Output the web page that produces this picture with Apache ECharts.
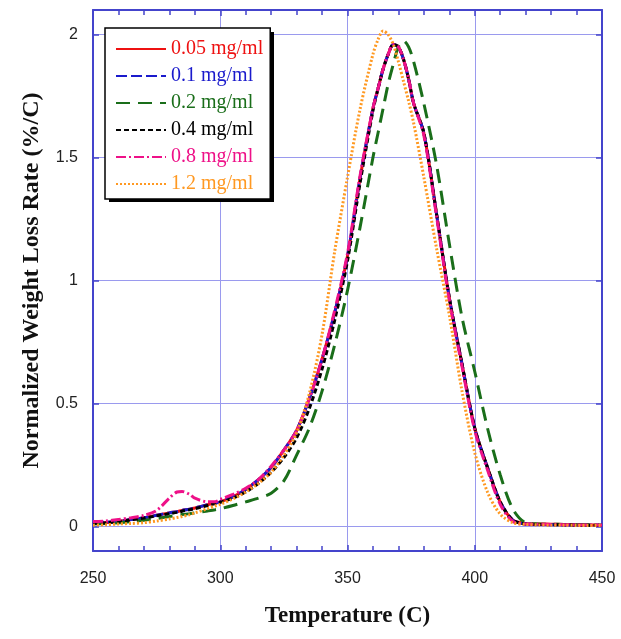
<!DOCTYPE html>
<html>
<head>
<meta charset="utf-8">
<script src="https://cdn.jsdelivr.net/npm/echarts@6/dist/echarts.min.js"></script>
<style>html,body{margin:0;padding:0;background:#fff}#c{width:621px;height:639px}</style>
</head>
<body>
<div id="c"></div>
<script>
const temps = [250,255,260,265,270,275,280,283,285,288,290,295,298,300,305,310,315,320,325,330,335,340,345,350,355,360,362,364,366,368,370,372,374,376,380,385,390,395,400,405,410,415,420,425,430,435,440,445,450];
const seriesNames = ['0.05 mg/ml','0.1 mg/ml','0.2 mg/ml','0.4 mg/ml','0.8 mg/ml','1.2 mg/ml'];
const red     = [0.012,0.016,0.02,0.028,0.035,0.045,0.055,0.06,0.065,0.07,0.075,0.088,0.095,0.1,0.12,0.15,0.19,0.24,0.31,0.39,0.52,0.68,0.87,1.1,1.42,1.7,1.78,1.86,1.92,1.96,1.95,1.9,1.82,1.72,1.6,1.27,0.93,0.66,0.4,0.24,0.1,0.025,0.012,0.01,0.009,0.008,0.007,0.006,0.005];
const blue    = [0.015,0.017,0.02,0.028,0.035,0.045,0.055,0.06,0.065,0.07,0.075,0.088,0.095,0.1,0.12,0.15,0.19,0.24,0.31,0.39,0.52,0.68,0.87,1.1,1.42,1.7,1.78,1.86,1.92,1.96,1.95,1.9,1.82,1.72,1.6,1.27,0.93,0.66,0.4,0.24,0.1,0.025,0.01,0.008,0.007,0.006,0.005,0.005,0.004];
const green   = [0.01,0.012,0.015,0.02,0.025,0.032,0.04,0.045,0.048,0.052,0.055,0.063,0.068,0.072,0.085,0.1,0.115,0.135,0.185,0.29,0.4,0.55,0.74,0.96,1.22,1.5,1.6,1.7,1.8,1.88,1.95,1.975,1.95,1.89,1.72,1.47,1.15,0.85,0.63,0.4,0.21,0.07,0.015,0.01,0.009,0.008,0.007,0.006,0.005];
const black   = [0.012,0.015,0.02,0.027,0.034,0.043,0.052,0.057,0.062,0.068,0.072,0.085,0.093,0.098,0.115,0.14,0.175,0.22,0.28,0.36,0.48,0.64,0.84,1.08,1.4,1.69,1.78,1.86,1.92,1.96,1.95,1.9,1.82,1.72,1.6,1.27,0.93,0.66,0.4,0.24,0.1,0.025,0.01,0.008,0.007,0.006,0.005,0.005,0.004];
const magenta = [0.02,0.022,0.028,0.035,0.045,0.065,0.115,0.14,0.142,0.13,0.115,0.1,0.1,0.11,0.13,0.155,0.19,0.245,0.31,0.39,0.52,0.68,0.88,1.11,1.43,1.7,1.78,1.86,1.92,1.96,1.95,1.9,1.82,1.72,1.59,1.26,0.92,0.65,0.39,0.23,0.09,0.02,0.01,0.009,0.008,0.007,0.006,0.006,0.005];
const orange  = [0.005,0.007,0.01,0.012,0.015,0.022,0.03,0.036,0.04,0.048,0.055,0.072,0.083,0.09,0.112,0.14,0.175,0.22,0.29,0.38,0.54,0.78,1.12,1.42,1.7,1.92,1.98,2.015,2.0,1.96,1.89,1.81,1.73,1.64,1.42,1.13,0.86,0.55,0.3,0.14,0.05,0.015,0.008,0.006,0.005,0.005,0.004,0.004,0.004];
const yTicks = [0,0.5,1,1.5,2];

const colors = ['#ee1111','#1a1acc','#1a6e1a','#000000','#ee1188','#ff9922'];
const dashes = ['solid',[11,4],[14,8],[5,3],[10,3,2,3],[2,2]];
const values = [red,blue,green,black,magenta,orange];

const axisBlue = '#4444cc';
const gridBlue = '#9a9aee';
const series = seriesNames.map((n,i)=>({
  name:n, type:'line', symbol:'none', smooth:0.3, xAxisIndex:0, yAxisIndex:0,
  data: temps.map((t,j)=>[t, values[i][j]]),
  lineStyle:{color:colors[i], width: 3, type:dashes[i]},
  itemStyle:{color:colors[i]},
  z: 2+i
}));

const chart = echarts.init(document.getElementById('c'), null, {renderer:'canvas'});
chart.setOption({
  animation:false,
  backgroundColor:'#fff',
  grid:{left:93, right:19, top:10, bottom:88, containLabel:false},
  graphic:[{
    type:'rect', left:109, top:32, z:3,
    shape:{width:165, height:170},
    style:{fill:'#000'}
  }],
  legend:{
    left:105, top:28, orient:'vertical', z:10,
    itemWidth:50, itemHeight:20, itemGap:7,
    padding:[11,7,5,10],
    backgroundColor:'#fff', borderColor:'#000', borderWidth:1.5,
    itemStyle:{opacity:0},
    textStyle:{fontFamily:'Liberation Serif', fontSize:20, lineHeight:20},
    data: seriesNames.map((n,i)=>({name:n, textStyle:{color:colors[i]}}))
  },
  xAxis:[{
    type:'value', min:250, max:450, interval:50, position:'bottom',
    name:'Temperature (C)', nameLocation:'middle', nameGap:54,
    nameTextStyle:{fontFamily:'Liberation Serif', fontWeight:'bold', fontSize:23, color:'#111'},
    axisLine:{show:true, onZero:false, lineStyle:{color:axisBlue, width:2}},
    axisTick:{show:true, inside:true, length:6, lineStyle:{color:axisBlue, width:1.5}},
    minorTick:{show:true, splitNumber:5, length:5, lineStyle:{color:axisBlue, width:1.5}},
    axisLabel:{margin:20, fontFamily:'Liberation Sans', fontSize:16, color:'#222'},
    splitLine:{show:true, lineStyle:{color:gridBlue, width:1}}
  },{
    type:'value', min:250, max:450, interval:50, position:'top',
    axisLine:{show:true, onZero:false, lineStyle:{color:axisBlue, width:2}},
    axisTick:{show:true, inside:true, length:6, lineStyle:{color:axisBlue, width:1.5}},
    minorTick:{show:true, splitNumber:5, length:5, lineStyle:{color:axisBlue, width:1.5}},
    axisLabel:{show:false}, splitLine:{show:false}
  }],
  yAxis:[{
    type:'value', min:-0.1, max:2.1, position:'left',
    name:'Normalized Weight Loss Rate (%/C)', nameLocation:'middle', nameGap:49, nameRotate:90,
    nameTextStyle:{fontFamily:'Liberation Serif', fontWeight:'bold', fontSize:24, color:'#111'},
    axisLine:{show:true, onZero:false, lineStyle:{color:axisBlue, width:2}},
    axisTick:{show:true, inside:true, length:6, customValues:yTicks, lineStyle:{color:axisBlue, width:1.5}},
    axisLabel:{margin:15, customValues:yTicks, fontFamily:'Liberation Sans', fontSize:16, color:'#222'},
    splitLine:{show:true, lineStyle:{color:gridBlue, width:1}}
  },{
    type:'value', min:-0.1, max:2.1, position:'right',
    axisLine:{show:true, onZero:false, lineStyle:{color:axisBlue, width:2}},
    axisTick:{show:true, inside:true, length:6, customValues:yTicks, lineStyle:{color:axisBlue, width:1.5}},
    axisLabel:{show:false}, splitLine:{show:false}
  }],
  series: series
});
</script>
</body>
</html>
